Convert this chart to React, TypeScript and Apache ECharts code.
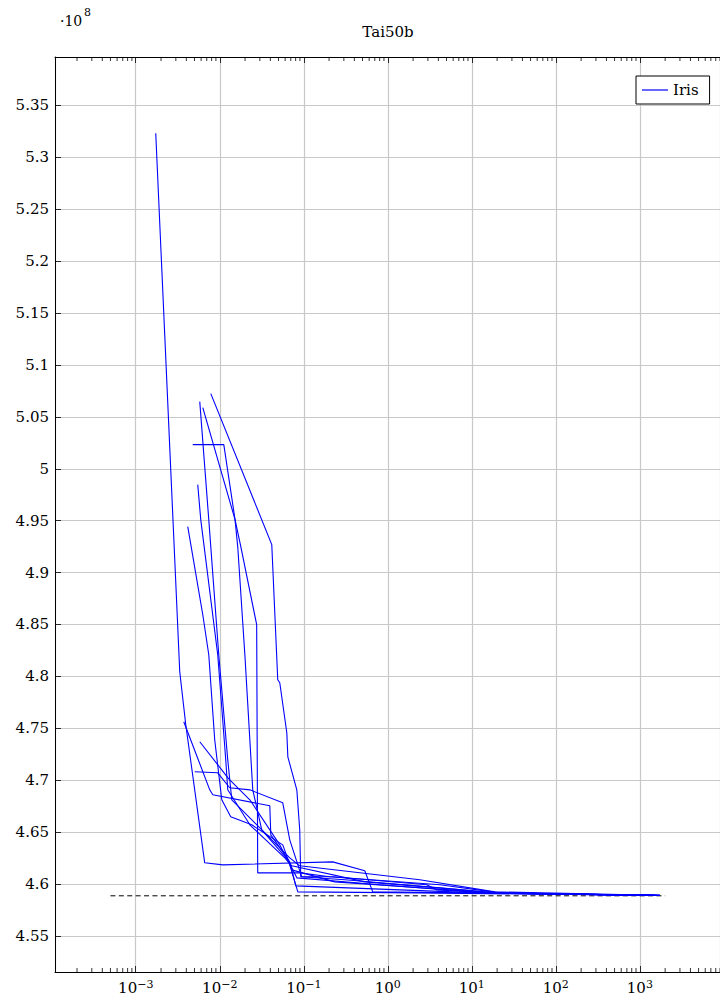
import React, { useEffect, useRef } from "react";
import * as echarts from "echarts";

const TITLE = "Tai50b";
const SERIES_NAME = "Iris";
const FONT = "DejaVu Serif";

// Axis extents: x is run time on a log scale, y is the objective in units of 1e8
const X_MIN = 1.094e-4;
const X_MAX = 9.14e3;
const Y_MIN = 4.5152;
const Y_MAX = 5.3967;

// Best known objective value (dashed reference) and the span it is drawn over
const BEST_KNOWN = 4.5886;
const BEST_SPAN = [5e-4, 2e3];

// Ten independent runs: [time, objective / 1e8]
const run1: [number, number][] = [
  [1.73e-3, 5.3233], [3.34e-3, 4.8045], [3.94e-3, 4.7534], [6.62e-3, 4.6204],
  [1.09e-2, 4.6184], [0.221, 4.6213], [0.532, 4.6127], [0.662, 4.5924],
  [9.46, 4.5914], [1730, 4.589],
];
const run2: [number, number][] = [
  [5.78e-3, 5.0647], [7.4e-3, 4.951], [9.73e-3, 4.8208], [1.245e-2, 4.7196],
  [1.39e-2, 4.6811], [6.81e-2, 4.6252], [8.95e-2, 4.6175], [2.4, 4.604],
  [18.8, 4.5924], [1510, 4.5891],
];
const run3: [number, number][] = [
  [6.28e-3, 5.0589], [1.52e-2, 4.951], [1.78e-2, 4.9249], [2.75e-2, 4.8498],
  [2.83e-2, 4.6107], [8.95e-2, 4.6107], [0.204, 4.6069], [4.16, 4.5992],
  [21.5, 4.5914], [1730, 4.5889],
];
const run4: [number, number][] = [
  [7.82e-3, 5.0724], [4.16e-2, 4.9269], [4.9e-2, 4.7967], [5.18e-2, 4.7939],
  [6.28e-2, 4.7457], [6.46e-2, 4.7225], [8.26e-2, 4.6907], [8.95e-2, 4.6522],
  [9.2e-2, 4.6069], [0.308, 4.604], [4.16, 4.5963], [20.5, 4.5912], [1730, 4.589],
];
const run5: [number, number][] = [
  [4.77e-3, 5.0233], [1.117e-2, 5.0233], [1.52e-2, 4.951], [1.64e-2, 4.924],
  [1.99e-2, 4.8208], [2.47e-2, 4.6907], [3.16e-2, 4.6522], [6.46e-2, 4.6233],
  [8.26e-2, 4.6059], [0.804, 4.5992], [12.4, 4.5918], [1315, 4.589],
];
const run6: [number, number][] = [
  [5.47e-3, 4.9847], [5.94e-3, 4.951], [9.46e-3, 4.8208], [1.178e-2, 4.7196],
  [1.245e-2, 4.6907], [2.28e-2, 4.657], [5.94e-2, 4.6252], [7.2e-2, 4.6175],
  [0.532, 4.602], [5.47, 4.5953], [19.5, 4.5912], [1510, 4.589],
];
const run7: [number, number][] = [
  [4.16e-3, 4.9442], [6.28e-3, 4.8594], [7.4e-3, 4.8208], [8.71e-3, 4.7389],
  [1.057e-2, 4.6811], [1.35e-2, 4.6647], [2.4e-2, 4.657], [5.62e-2, 4.6377],
  [7.2e-2, 4.6136], [0.234, 4.602], [2.4, 4.5963], [18, 4.5913], [1730, 4.5889],
];
const run8: [number, number][] = [
  [3.73e-3, 4.7563], [7.6e-3, 4.6907], [8.26e-3, 4.6859], [3.94e-2, 4.6753],
  [4.05e-2, 4.6473], [6.81e-2, 4.6213], [8.04e-2, 4.5982], [1.39, 4.5943],
  [15, 4.5912], [1730, 4.589],
];
const run9: [number, number][] = [
  [5.78e-3, 4.737], [1.28e-2, 4.7013], [2.28e-2, 4.6811], [5.18e-2, 4.6377],
  [6.81e-2, 4.6184], [8.49e-2, 4.5924], [2.4, 4.5914], [1730, 4.589],
];
const run10: [number, number][] = [
  [5.04e-3, 4.7081], [9.46e-3, 4.7071], [1.315e-2, 4.6927], [2.28e-2, 4.6907],
  [5.62e-2, 4.6782], [6.81e-2, 4.6425], [9.46e-2, 4.6069], [0.221, 4.6069],
  [2.91, 4.5992], [3.83, 4.5943], [18.8, 4.5914], [1730, 4.5889],
];
const runs = [run1, run2, run3, run4, run5, run6, run7, run8, run9, run10];

// Minor ticks of the log axis at 2..9 x 10^n
const MINOR_TICKS: number[] = [];
for (let n = -4; n <= 3; n++) {
  for (let k = 2; k <= 9; k++) {
    const v = k * Math.pow(10, n);
    if (v > X_MIN && v < X_MAX) MINOR_TICKS.push(v);
  }
}

const supLabel = (value: number) => {
  const n = Math.round(Math.log10(value));
  const exp = n < 0 ? "\u2212" + -n : String(n);
  return `{b|10}{s|${exp}}`;
};

const richSup = {
  b: { fontFamily: FONT, fontSize: 15, color: "#000", verticalAlign: "bottom", lineHeight: 16, padding: [7, 0, 0, 0] },
  s: { fontFamily: FONT, fontSize: 11, color: "#000", verticalAlign: "top", lineHeight: 12 },
};

export default function App() {
  const ref = useRef<HTMLDivElement>(null);

  useEffect(() => {
    if (!ref.current) return;
    const chart = echarts.init(ref.current, null, { renderer: "svg", width: 724, height: 1003 });

    const logAxisBase = {
      type: "log" as const,
      logBase: 10,
      min: X_MIN,
      max: X_MAX,
      splitNumber: 8,
      axisLine: { show: true, onZero: false, lineStyle: { color: "#000", width: 1 } },
      axisTick: { show: true, inside: true, length: 6, lineStyle: { color: "#000", width: 0.8 } },
    };

    const lineSeries = runs.map((run) => ({
      type: "line",
      name: SERIES_NAME,
      data: run,
      symbol: "none",
      showSymbol: false,
      silent: true,
      lineStyle: { color: "#0000ff", width: 1.1 },
      itemStyle: { color: "#0000ff" },
      z: 4,
    }));

    chart.setOption({
      animation: false,
      backgroundColor: "#fff",
      textStyle: { fontFamily: FONT },
      grid: { left: 55, right: 3.4, top: 57, bottom: 31, outerBoundsMode: "none" },
      legend: {
        data: [{ name: SERIES_NAME, icon: "rect" }],
        left: 636,
        top: 76,
        padding: [5, 11, 5, 6],
        itemWidth: 26,
        itemHeight: 1.2,
        borderColor: "#000",
        borderWidth: 1,
        borderRadius: 0,
        backgroundColor: "#fff",
        selectedMode: false,
        itemStyle: { color: "#0000ff", borderWidth: 0 },
        textStyle: { fontFamily: FONT, fontSize: 15, color: "#000", lineHeight: 18 },
      },
      xAxis: [
        {
          ...logAxisBase,
          position: "bottom",
          axisLabel: {
            show: true,
            margin: 7,
            showMinLabel: false,
            showMaxLabel: false,
            formatter: supLabel,
            rich: richSup,
          },
          splitLine: { show: true, lineStyle: { color: "#c8c8c8", width: 1.2 } },
        },
        {
          ...logAxisBase,
          position: "top",
          axisLabel: { show: false },
          splitLine: { show: false },
        },
      ],
      yAxis: {
        type: "value",
        min: Y_MIN,
        max: Y_MAX,
        splitNumber: 17,
        minInterval: 0.05,
        maxInterval: 0.05,
        axisLine: { show: true, onZero: false, lineStyle: { color: "#000", width: 1 } },
        axisTick: { show: true, inside: true, length: 6, lineStyle: { color: "#000", width: 0.8 } },
        axisLabel: {
          show: true,
          margin: 6,
          showMinLabel: false,
          showMaxLabel: false,
          fontFamily: FONT,
          fontSize: 15,
          color: "#000",
          formatter: (v: number) => String(Number(v.toFixed(2))),
        },
        splitLine: { show: true, lineStyle: { color: "#c8c8c8", width: 1.2 } },
      },
      graphic: [
        {
          type: "text",
          x: 388,
          y: 32,
          silent: true,
          style: { text: TITLE, align: "center", verticalAlign: "middle", fontFamily: FONT, fontSize: 15, fill: "#000" },
        },
        {
          type: "text",
          x: 60,
          y: 21,
          silent: true,
          style: { text: "\u00b710", align: "left", verticalAlign: "middle", fontFamily: FONT, fontSize: 14, fill: "#000" },
        },
        {
          type: "text",
          x: 84,
          y: 12,
          silent: true,
          style: { text: "8", align: "left", verticalAlign: "middle", fontFamily: FONT, fontSize: 11, fill: "#000" },
        },
      ],
      series: [
        ...lineSeries,
        {
          type: "line",
          name: "best",
          data: [[BEST_SPAN[0], BEST_KNOWN], [BEST_SPAN[1], BEST_KNOWN]],
          symbol: "none",
          showSymbol: false,
          silent: true,
          lineStyle: { color: "#000", width: 1, type: [5, 3.4] },
          z: 3,
        },
        {
          type: "custom",
          name: "minorTicks",
          silent: true,
          clip: false,
          data: MINOR_TICKS.map((v) => [v, Y_MIN]),
          renderItem: (params: any, api: any) => {
            const cs = params.coordSys;
            const x = api.coord([api.value(0), Y_MIN])[0];
            const bottom = cs.y + cs.height;
            const top = cs.y;
            const style = { stroke: "#000", lineWidth: 0.8 };
            return {
              type: "group",
              children: [
                { type: "line", shape: { x1: x, y1: bottom, x2: x, y2: bottom - 4 }, style },
                { type: "line", shape: { x1: x, y1: top, x2: x, y2: top + 4 }, style },
              ],
            };
          },
          z: 5,
        },
      ],
    });

    return () => chart.dispose();
  }, []);

  return (
    <div style={{ position: "absolute", left: 0, top: 0, width: 720, height: 1003, overflow: "hidden", background: "#fff" }}>
      <div ref={ref} style={{ width: 724, height: 1003 }} />
    </div>
  );
}
